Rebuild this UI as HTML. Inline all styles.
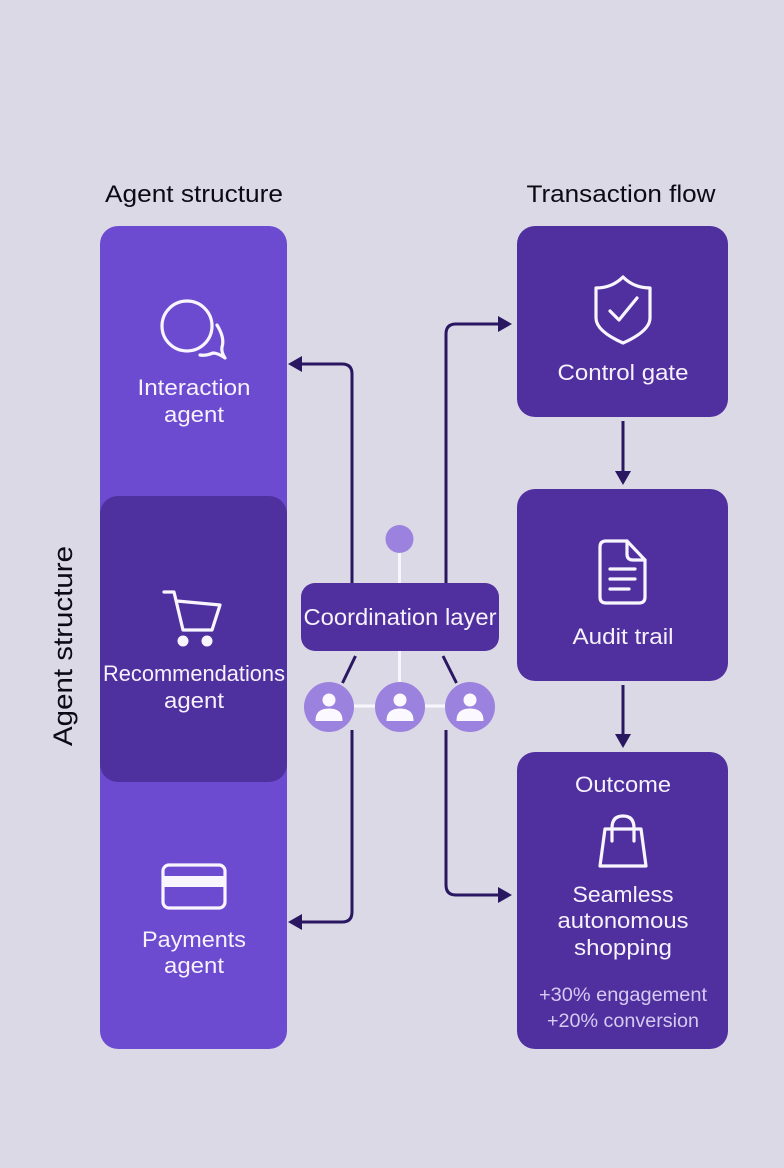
<!DOCTYPE html>
<html><head><meta charset="utf-8"><style>
html,body{margin:0;padding:0;background:#dcd9e6}
svg{display:block}
text{font-family:"Liberation Sans",sans-serif;text-anchor:middle;fill:#f6f2fd}
.k{fill:#0c0a14}
.w{fill:none;stroke:#f8f5fe;stroke-width:3.2;stroke-linecap:round;stroke-linejoin:round}
.c{fill:none;stroke:#2a1762;stroke-width:3}
.a{fill:#2a1762}
</style></head><body>
<svg width="784" height="1168" viewBox="0 0 784 1168" xmlns="http://www.w3.org/2000/svg">
<rect width="784" height="1168" fill="#dcd9e6"/>
<text class="k" x="194" y="202" font-size="24" textLength="178" lengthAdjust="spacingAndGlyphs">Agent structure</text>
<text class="k" x="621" y="202" font-size="24" textLength="189" lengthAdjust="spacingAndGlyphs">Transaction flow</text>
<text class="k" transform="translate(72 646) rotate(-90)" font-size="27" textLength="200" lengthAdjust="spacingAndGlyphs">Agent structure</text>

<rect x="100" y="226" width="187" height="823" rx="18" fill="#6c4bd0"/>
<rect x="100" y="496" width="187" height="286" rx="18" fill="#4f309f"/>
<rect x="517" y="226" width="211" height="191" rx="18" fill="#50309f"/>
<rect x="517" y="489" width="211" height="192" rx="18" fill="#50309f"/>
<rect x="517" y="752" width="211" height="297" rx="18" fill="#50309f"/>

<!-- connectors -->
<path class="c" d="M352 584V374Q352 364 342 364H298"/>
<path class="a" d="M288 364L302 356V372Z"/>
<path class="c" d="M352 730V912Q352 922 342 922H298"/>
<path class="a" d="M288 922L302 914V930Z"/>
<path class="c" d="M446 584V334Q446 324 456 324H502"/>
<path class="a" d="M512 324L498 316V332Z"/>
<path class="c" d="M446 730V885Q446 895 456 895H502"/>
<path class="a" d="M512 895L498 887V903Z"/>
<path class="c" d="M623 421V472"/>
<path class="a" d="M623 485L615 471H631Z"/>
<path class="c" d="M623 685V735"/>
<path class="a" d="M623 748L615 734H631Z"/>
<path class="c" d="M355.500 656L342.500 683M443 656L456.500 683"/>

<!-- coordination -->
<path d="M399.500 550V584M399.500 650V684M352 706H448" stroke="#f8f6fd" stroke-width="3" fill="none"/>
<circle cx="399.500" cy="539" r="14" fill="#9b82de"/>
<rect x="301" y="583" width="198" height="68" rx="14" fill="#50309f"/>
<text x="400" y="625" font-size="23" textLength="193" lengthAdjust="spacingAndGlyphs">Coordination layer</text>
<g>
<circle cx="329" cy="707" r="25" fill="#9b82de"/>
<circle cx="329" cy="700" r="6.500" fill="#fbf9ff"/>
<path d="M316 720.500Q316 709 329 709Q342 709 342 720.500Z" fill="#fbf9ff" stroke="#fbf9ff" stroke-linejoin="round"/>
</g>
<g transform="translate(71 0)">
<circle cx="329" cy="707" r="25" fill="#9b82de"/>
<circle cx="329" cy="700" r="6.500" fill="#fbf9ff"/>
<path d="M316 720.500Q316 709 329 709Q342 709 342 720.500Z" fill="#fbf9ff" stroke="#fbf9ff" stroke-linejoin="round"/>
</g>
<g transform="translate(141 0)">
<circle cx="329" cy="707" r="25" fill="#9b82de"/>
<circle cx="329" cy="700" r="6.500" fill="#fbf9ff"/>
<path d="M316 720.500Q316 709 329 709Q342 709 342 720.500Z" fill="#fbf9ff" stroke="#fbf9ff" stroke-linejoin="round"/>
</g>

<!-- interaction icon -->
<circle class="w" cx="187" cy="326" r="25"/>
<path class="w" d="M217 325Q225 338 222 347Q221 352 225 358Q218 353 213 353Q206 356 200 355"/>
<text x="194" y="395" font-size="22" textLength="113" lengthAdjust="spacingAndGlyphs">Interaction</text>
<text x="194" y="422" font-size="22" textLength="60" lengthAdjust="spacingAndGlyphs">agent</text>

<!-- cart -->
<path class="w" d="M164 592H174L183 630H212L220 605L177 601"/>
<circle cx="183" cy="641" r="5.500" fill="#f8f5fe"/>
<circle cx="207" cy="641" r="5.500" fill="#f8f5fe"/>
<text x="194" y="681" font-size="22" textLength="182" lengthAdjust="spacingAndGlyphs">Recommendations</text>
<text x="194" y="708" font-size="22" textLength="60" lengthAdjust="spacingAndGlyphs">agent</text>

<!-- card -->
<rect class="w" x="163" y="865" width="62" height="43" rx="6"/>
<rect x="163" y="876" width="62" height="11" fill="#f8f5fe"/>
<text x="194" y="947" font-size="22" textLength="104" lengthAdjust="spacingAndGlyphs">Payments</text>
<text x="194" y="973" font-size="22" textLength="60" lengthAdjust="spacingAndGlyphs">agent</text>

<!-- shield -->
<path class="w" d="M623 277Q634 288 650 288V318Q650 331 623 343Q596 331 596 318V288Q612 288 623 277Z"/>
<path class="w" d="M610 311L619 320L637 298"/>
<text x="623" y="380" font-size="22" textLength="131" lengthAdjust="spacingAndGlyphs">Control gate</text>

<!-- doc -->
<path class="w" d="M606 541H627L645 560V597Q645 603 639 603H606Q600 603 600 597V547Q600 541 606 541Z"/>
<path class="w" d="M627 541V554Q627 560 633 560H645"/>
<path class="w" d="M610 569H635M610 579H635M610 589H629"/>
<text x="623" y="644" font-size="22" textLength="101" lengthAdjust="spacingAndGlyphs">Audit trail</text>

<!-- outcome -->
<text x="623" y="792" font-size="22" textLength="96" lengthAdjust="spacingAndGlyphs">Outcome</text>
<path class="w" d="M605 829H641L646 866H600Z"/>
<path class="w" d="M612 841V828Q612 816 623 816Q634 816 634 828V841"/>
<text x="623" y="902" font-size="22" textLength="101" lengthAdjust="spacingAndGlyphs">Seamless</text>
<text x="623" y="928" font-size="22" textLength="131" lengthAdjust="spacingAndGlyphs">autonomous</text>
<text x="623" y="955" font-size="22" textLength="98" lengthAdjust="spacingAndGlyphs">shopping</text>
<text x="623" y="1001" font-size="19" textLength="168" lengthAdjust="spacingAndGlyphs" style="fill:#d6caf3">+30% engagement</text>
<text x="623" y="1027" font-size="19" textLength="152" lengthAdjust="spacingAndGlyphs" style="fill:#d6caf3">+20% conversion</text>
</svg>
</body></html>
